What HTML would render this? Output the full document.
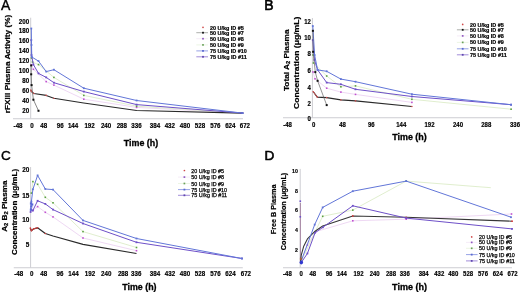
<!DOCTYPE html>
<html><head><meta charset="utf-8"><style>
html,body{margin:0;padding:0;background:#fff;}
svg{display:block;font-family:"Liberation Sans", sans-serif;will-change:transform;}
</style></head><body>
<svg width="520" height="292" viewBox="0 0 520 292">
<rect width="520" height="292" fill="#fff"/>
<text x="1.1" y="9.9" font-size="14" text-anchor="start" font-weight="normal" fill="#000" stroke="#000" stroke-width="0.35">A</text>
<text x="264.2" y="9.9" font-size="14" text-anchor="start" font-weight="normal" fill="#000" stroke="#000" stroke-width="0.6">B</text>
<text x="0.9" y="159.7" font-size="13.6" text-anchor="start" font-weight="normal" fill="#000" stroke="#000" stroke-width="0.35">C</text>
<text x="264.6" y="159.9" font-size="13.6" text-anchor="start" font-weight="normal" fill="#000" stroke="#000" stroke-width="0.6">D</text>
<line x1="30.7" y1="17.7" x2="30.7" y2="118.5" stroke="#cdcdd2" stroke-width="1.0"/>
<line x1="13" y1="118.8" x2="243" y2="118.8" stroke="#cdcdd2" stroke-width="1.1"/>
<text x="29.2" y="23.985952" font-size="6.94" text-anchor="end" font-weight="bold" fill="#000" textLength="10.34" lengthAdjust="spacingAndGlyphs" stroke="#000" stroke-width="0.18">200</text>
<text x="29.2" y="32.985952" font-size="6.94" text-anchor="end" font-weight="bold" fill="#000" textLength="10.34" lengthAdjust="spacingAndGlyphs" stroke="#000" stroke-width="0.18">180</text>
<text x="29.2" y="42.785951999999995" font-size="6.94" text-anchor="end" font-weight="bold" fill="#000" textLength="10.34" lengthAdjust="spacingAndGlyphs" stroke="#000" stroke-width="0.18">160</text>
<text x="29.2" y="52.785951999999995" font-size="6.94" text-anchor="end" font-weight="bold" fill="#000" textLength="10.34" lengthAdjust="spacingAndGlyphs" stroke="#000" stroke-width="0.18">140</text>
<text x="29.2" y="62.985952" font-size="6.94" text-anchor="end" font-weight="bold" fill="#000" textLength="10.34" lengthAdjust="spacingAndGlyphs" stroke="#000" stroke-width="0.18">120</text>
<text x="29.2" y="72.885952" font-size="6.94" text-anchor="end" font-weight="bold" fill="#000" textLength="10.34" lengthAdjust="spacingAndGlyphs" stroke="#000" stroke-width="0.18">100</text>
<text x="29.2" y="82.785952" font-size="6.94" text-anchor="end" font-weight="bold" fill="#000" textLength="6.89" lengthAdjust="spacingAndGlyphs" stroke="#000" stroke-width="0.18">80</text>
<text x="29.2" y="92.985952" font-size="6.94" text-anchor="end" font-weight="bold" fill="#000" textLength="6.89" lengthAdjust="spacingAndGlyphs" stroke="#000" stroke-width="0.18">60</text>
<text x="29.2" y="103.285952" font-size="6.94" text-anchor="end" font-weight="bold" fill="#000" textLength="6.89" lengthAdjust="spacingAndGlyphs" stroke="#000" stroke-width="0.18">40</text>
<text x="29.2" y="113.485952" font-size="6.94" text-anchor="end" font-weight="bold" fill="#000" textLength="6.89" lengthAdjust="spacingAndGlyphs" stroke="#000" stroke-width="0.18">20</text>
<text x="18.1" y="128.0" font-size="6.94" text-anchor="middle" font-weight="bold" fill="#000" textLength="8.96" lengthAdjust="spacingAndGlyphs" stroke="#000" stroke-width="0.18">-48</text>
<text x="31.9" y="128.0" font-size="6.94" text-anchor="middle" font-weight="bold" fill="#000" textLength="3.45" lengthAdjust="spacingAndGlyphs" stroke="#000" stroke-width="0.18">0</text>
<text x="43.75" y="128.0" font-size="6.94" text-anchor="middle" font-weight="bold" fill="#000" textLength="6.89" lengthAdjust="spacingAndGlyphs" stroke="#000" stroke-width="0.18">48</text>
<text x="60.3" y="128.0" font-size="6.94" text-anchor="middle" font-weight="bold" fill="#000" textLength="6.89" lengthAdjust="spacingAndGlyphs" stroke="#000" stroke-width="0.18">96</text>
<text x="73.1" y="128.0" font-size="6.94" text-anchor="middle" font-weight="bold" fill="#000" textLength="10.34" lengthAdjust="spacingAndGlyphs" stroke="#000" stroke-width="0.18">144</text>
<text x="89.6" y="128.0" font-size="6.94" text-anchor="middle" font-weight="bold" fill="#000" textLength="10.34" lengthAdjust="spacingAndGlyphs" stroke="#000" stroke-width="0.18">192</text>
<text x="106.1" y="128.0" font-size="6.94" text-anchor="middle" font-weight="bold" fill="#000" textLength="10.34" lengthAdjust="spacingAndGlyphs" stroke="#000" stroke-width="0.18">240</text>
<text x="121.8" y="128.0" font-size="6.94" text-anchor="middle" font-weight="bold" fill="#000" textLength="10.34" lengthAdjust="spacingAndGlyphs" stroke="#000" stroke-width="0.18">288</text>
<text x="136.5" y="128.0" font-size="6.94" text-anchor="middle" font-weight="bold" fill="#000" textLength="10.34" lengthAdjust="spacingAndGlyphs" stroke="#000" stroke-width="0.18">336</text>
<text x="155" y="128.0" font-size="6.94" text-anchor="middle" font-weight="bold" fill="#000" textLength="10.34" lengthAdjust="spacingAndGlyphs" stroke="#000" stroke-width="0.18">384</text>
<text x="169.8" y="128.0" font-size="6.94" text-anchor="middle" font-weight="bold" fill="#000" textLength="10.34" lengthAdjust="spacingAndGlyphs" stroke="#000" stroke-width="0.18">432</text>
<text x="185" y="128.0" font-size="6.94" text-anchor="middle" font-weight="bold" fill="#000" textLength="10.34" lengthAdjust="spacingAndGlyphs" stroke="#000" stroke-width="0.18">480</text>
<text x="200" y="128.0" font-size="6.94" text-anchor="middle" font-weight="bold" fill="#000" textLength="10.34" lengthAdjust="spacingAndGlyphs" stroke="#000" stroke-width="0.18">528</text>
<text x="215.4" y="128.0" font-size="6.94" text-anchor="middle" font-weight="bold" fill="#000" textLength="10.34" lengthAdjust="spacingAndGlyphs" stroke="#000" stroke-width="0.18">576</text>
<text x="230.3" y="128.0" font-size="6.94" text-anchor="middle" font-weight="bold" fill="#000" textLength="10.34" lengthAdjust="spacingAndGlyphs" stroke="#000" stroke-width="0.18">624</text>
<text x="244.9" y="128.0" font-size="6.94" text-anchor="middle" font-weight="bold" fill="#000" textLength="10.34" lengthAdjust="spacingAndGlyphs" stroke="#000" stroke-width="0.18">672</text>
<text x="141" y="145.9" font-size="8.9" text-anchor="middle" font-weight="bold" fill="#000" textLength="34.4" lengthAdjust="spacingAndGlyphs" stroke="#000" stroke-width="0.3">Time (h)</text>
<text transform="translate(10.4 64.0) rotate(-90)" x="0" y="0" font-size="7.4" text-anchor="middle" font-weight="bold" fill="#000" textLength="98.4" lengthAdjust="spacingAndGlyphs" stroke="#000" stroke-width="0.2">rFXIII Plasma Activity (%)</text>
<polyline points="31.5,65 33.4,69.3 46.2,81.6 53.9,85.1 83.8,99.2 136.6,107.4 242.5,113.1" fill="none" stroke="#ecd4f2" stroke-width="0.9" stroke-opacity="1" stroke-linejoin="round"/>
<rect x="30.7" y="64.2" width="1.6" height="1.6" fill="#c050d0" fill-opacity="1"/>
<rect x="32.6" y="68.5" width="1.6" height="1.6" fill="#c050d0" fill-opacity="1"/>
<rect x="45.400000000000006" y="80.8" width="1.6" height="1.6" fill="#c050d0" fill-opacity="1"/>
<rect x="53.1" y="84.3" width="1.6" height="1.6" fill="#c050d0" fill-opacity="1"/>
<rect x="83.0" y="98.4" width="1.6" height="1.6" fill="#c050d0" fill-opacity="1"/>
<rect x="135.79999999999998" y="106.60000000000001" width="1.6" height="1.6" fill="#c050d0" fill-opacity="1"/>
<rect x="241.7" y="112.3" width="1.6" height="1.6" fill="#c050d0" fill-opacity="1"/>
<polyline points="31.5,58 32.5,62 38.5,64.6 53.9,77.4 83.8,95.4 136.6,106.2 242.5,113.1" fill="none" stroke="#dcecc8" stroke-width="0.9" stroke-opacity="1" stroke-linejoin="round"/>
<rect x="30.7" y="57.2" width="1.6" height="1.6" fill="#5aa040" fill-opacity="1"/>
<rect x="31.7" y="61.2" width="1.6" height="1.6" fill="#5aa040" fill-opacity="1"/>
<rect x="37.7" y="63.8" width="1.6" height="1.6" fill="#5aa040" fill-opacity="1"/>
<rect x="53.1" y="76.60000000000001" width="1.6" height="1.6" fill="#5aa040" fill-opacity="1"/>
<rect x="83.0" y="94.60000000000001" width="1.6" height="1.6" fill="#5aa040" fill-opacity="1"/>
<rect x="135.79999999999998" y="105.4" width="1.6" height="1.6" fill="#5aa040" fill-opacity="1"/>
<rect x="241.7" y="112.3" width="1.6" height="1.6" fill="#5aa040" fill-opacity="1"/>
<polyline points="30.8,90 31.4,91.5 33.8,93.5 46.2,95.4 53.8,98.2 83.7,103 136.6,110.5 242.5,113.1" fill="none" stroke="#2a2a2a" stroke-width="1.1" stroke-opacity="1" stroke-linejoin="round"/>
<polyline points="30.8,90 31.4,91.5 33.8,93.5" fill="none" stroke="#c85050" stroke-width="1.0" stroke-opacity="1" stroke-linejoin="round"/>
<circle cx="30.8" cy="90" r="0.8" fill="#d05050" fill-opacity="1"/>
<circle cx="31.4" cy="91.5" r="0.8" fill="#d05050" fill-opacity="1"/>
<circle cx="33.8" cy="93.5" r="0.8" fill="#d05050" fill-opacity="1"/>
<circle cx="46.2" cy="95.4" r="0.8" fill="#d05050" fill-opacity="1"/>
<circle cx="53.8" cy="98.2" r="0.8" fill="#d05050" fill-opacity="1"/>
<polyline points="31.3,40 31.5,55 33.4,64.6 38.5,73.4 46.2,77.4 53.9,82.7 83.8,91.6 136.6,104.6 242.5,113.1" fill="none" stroke="#6e50c8" stroke-width="1.0" stroke-opacity="1" stroke-linejoin="round"/>
<rect x="30.400000000000002" y="39.1" width="1.8" height="1.8" fill="#6e50c8" fill-opacity="1"/>
<rect x="30.6" y="54.1" width="1.8" height="1.8" fill="#6e50c8" fill-opacity="1"/>
<rect x="32.5" y="63.699999999999996" width="1.8" height="1.8" fill="#6e50c8" fill-opacity="1"/>
<rect x="37.6" y="72.5" width="1.8" height="1.8" fill="#6e50c8" fill-opacity="1"/>
<rect x="45.300000000000004" y="76.5" width="1.8" height="1.8" fill="#6e50c8" fill-opacity="1"/>
<rect x="53.0" y="81.8" width="1.8" height="1.8" fill="#6e50c8" fill-opacity="1"/>
<rect x="82.89999999999999" y="90.69999999999999" width="1.8" height="1.8" fill="#6e50c8" fill-opacity="1"/>
<rect x="135.7" y="103.69999999999999" width="1.8" height="1.8" fill="#6e50c8" fill-opacity="1"/>
<rect x="241.6" y="112.19999999999999" width="1.8" height="1.8" fill="#6e50c8" fill-opacity="1"/>
<polyline points="31.3,28.5 31.5,45 31.8,57 38.5,61.1 46.2,71.6 53.9,69.7 83.8,88.2 136.6,100.5 242.5,113.1" fill="none" stroke="#6276d8" stroke-width="1.0" stroke-opacity="1" stroke-linejoin="round"/>
<rect x="30.400000000000002" y="27.6" width="1.8" height="1.8" fill="#6276d8" fill-opacity="1"/>
<rect x="30.6" y="44.1" width="1.8" height="1.8" fill="#6276d8" fill-opacity="1"/>
<rect x="30.900000000000002" y="56.1" width="1.8" height="1.8" fill="#6276d8" fill-opacity="1"/>
<rect x="37.6" y="60.2" width="1.8" height="1.8" fill="#6276d8" fill-opacity="1"/>
<rect x="45.300000000000004" y="70.69999999999999" width="1.8" height="1.8" fill="#6276d8" fill-opacity="1"/>
<rect x="53.0" y="68.8" width="1.8" height="1.8" fill="#6276d8" fill-opacity="1"/>
<rect x="82.89999999999999" y="87.3" width="1.8" height="1.8" fill="#6276d8" fill-opacity="1"/>
<rect x="135.7" y="99.6" width="1.8" height="1.8" fill="#6276d8" fill-opacity="1"/>
<rect x="241.6" y="112.19999999999999" width="1.8" height="1.8" fill="#6276d8" fill-opacity="1"/>
<polyline points="31.2,65.4 31.2,74.3 31.6,85.1 33.4,99.7 38.5,110.8" fill="none" stroke="#555" stroke-width="0.7" stroke-opacity="1" stroke-linejoin="round"/>
<rect x="30.2" y="64.4" width="2.0" height="2.0" fill="#111" fill-opacity="1"/>
<rect x="30.2" y="73.3" width="2.0" height="2.0" fill="#111" fill-opacity="1"/>
<rect x="30.6" y="84.1" width="2.0" height="2.0" fill="#111" fill-opacity="1"/>
<rect x="32.4" y="98.7" width="2.0" height="2.0" fill="#111" fill-opacity="1"/>
<rect x="37.5" y="109.8" width="2.0" height="2.0" fill="#111" fill-opacity="1"/>
<circle cx="203" cy="27.3" r="0.85" fill="#d04848" fill-opacity="1"/>
<text x="210" y="29.816000000000003" font-size="5.6" text-anchor="start" font-weight="bold" fill="#000" textLength="33.81" lengthAdjust="spacingAndGlyphs" stroke="#000" stroke-width="0.2">20 U/kg ID #5</text>
<line x1="196.3" y1="32.7" x2="208" y2="32.7" stroke="#8a8e88" stroke-width="0.7"/>
<rect x="202.1" y="31.800000000000004" width="1.8" height="1.8" fill="#111" fill-opacity="1"/>
<text x="210" y="34.716" font-size="5.6" text-anchor="start" font-weight="bold" fill="#000" textLength="33.81" lengthAdjust="spacingAndGlyphs" stroke="#000" stroke-width="0.2">50 U/kg ID #7</text>
<line x1="196.3" y1="38.7" x2="208" y2="38.7" stroke="#f0e4f4" stroke-width="0.7"/>
<rect x="202.15" y="37.85" width="1.7" height="1.7" fill="#9058c0" fill-opacity="1"/>
<text x="210" y="40.716" font-size="5.6" text-anchor="start" font-weight="bold" fill="#000" textLength="33.81" lengthAdjust="spacingAndGlyphs" stroke="#000" stroke-width="0.2">50 U/kg ID #8</text>
<line x1="196.3" y1="44.9" x2="208" y2="44.9" stroke="#e4f0d8" stroke-width="0.7"/>
<rect x="202.15" y="44.05" width="1.7" height="1.7" fill="#68a058" fill-opacity="1"/>
<text x="210" y="46.916" font-size="5.6" text-anchor="start" font-weight="bold" fill="#000" textLength="33.81" lengthAdjust="spacingAndGlyphs" stroke="#000" stroke-width="0.2">50 U/kg ID #9</text>
<line x1="196.3" y1="50.9" x2="208" y2="50.9" stroke="#7c8ce0" stroke-width="0.8"/>
<rect x="202.1" y="50.0" width="1.8" height="1.8" fill="#5a6ad0" fill-opacity="1"/>
<text x="210" y="52.916" font-size="5.6" text-anchor="start" font-weight="bold" fill="#000" textLength="36.83" lengthAdjust="spacingAndGlyphs" stroke="#000" stroke-width="0.2">75 U/kg ID #10</text>
<line x1="196.3" y1="56.8" x2="208" y2="56.8" stroke="#8a70d0" stroke-width="0.8"/>
<rect x="202.1" y="55.9" width="1.8" height="1.8" fill="#6048b0" fill-opacity="1"/>
<text x="210" y="58.815999999999995" font-size="5.6" text-anchor="start" font-weight="bold" fill="#000" textLength="36.83" lengthAdjust="spacingAndGlyphs" stroke="#000" stroke-width="0.2">75 U/kg ID #11</text>
<line x1="312.4" y1="18" x2="312.4" y2="117.7" stroke="#cdcdd2" stroke-width="1.0"/>
<line x1="283" y1="117.7" x2="512" y2="117.7" stroke="#cdcdd2" stroke-width="1.1"/>
<text x="310.9" y="23.70576" font-size="6.72" text-anchor="end" font-weight="bold" fill="#000" textLength="6.67" lengthAdjust="spacingAndGlyphs" stroke="#000" stroke-width="0.18">12</text>
<text x="310.9" y="40.30576" font-size="6.72" text-anchor="end" font-weight="bold" fill="#000" textLength="6.67" lengthAdjust="spacingAndGlyphs" stroke="#000" stroke-width="0.18">10</text>
<text x="310.9" y="56.20576" font-size="6.72" text-anchor="end" font-weight="bold" fill="#000" textLength="3.34" lengthAdjust="spacingAndGlyphs" stroke="#000" stroke-width="0.18">8</text>
<text x="310.9" y="72.90576" font-size="6.72" text-anchor="end" font-weight="bold" fill="#000" textLength="3.34" lengthAdjust="spacingAndGlyphs" stroke="#000" stroke-width="0.18">6</text>
<text x="310.9" y="89.60576" font-size="6.72" text-anchor="end" font-weight="bold" fill="#000" textLength="3.34" lengthAdjust="spacingAndGlyphs" stroke="#000" stroke-width="0.18">4</text>
<text x="310.9" y="105.60576" font-size="6.72" text-anchor="end" font-weight="bold" fill="#000" textLength="3.34" lengthAdjust="spacingAndGlyphs" stroke="#000" stroke-width="0.18">2</text>
<text x="310.9" y="121.40576" font-size="6.72" text-anchor="end" font-weight="bold" fill="#000" textLength="3.34" lengthAdjust="spacingAndGlyphs" stroke="#000" stroke-width="0.18">0</text>
<text x="287.5" y="127.0" font-size="6.72" text-anchor="middle" font-weight="bold" fill="#000" textLength="8.67" lengthAdjust="spacingAndGlyphs" stroke="#000" stroke-width="0.18">-48</text>
<text x="313.75" y="127.0" font-size="6.72" text-anchor="middle" font-weight="bold" fill="#000" textLength="3.34" lengthAdjust="spacingAndGlyphs" stroke="#000" stroke-width="0.18">0</text>
<text x="342.5" y="127.0" font-size="6.72" text-anchor="middle" font-weight="bold" fill="#000" textLength="6.67" lengthAdjust="spacingAndGlyphs" stroke="#000" stroke-width="0.18">48</text>
<text x="371.25" y="127.0" font-size="6.72" text-anchor="middle" font-weight="bold" fill="#000" textLength="6.67" lengthAdjust="spacingAndGlyphs" stroke="#000" stroke-width="0.18">96</text>
<text x="401.25" y="127.0" font-size="6.72" text-anchor="middle" font-weight="bold" fill="#000" textLength="10.01" lengthAdjust="spacingAndGlyphs" stroke="#000" stroke-width="0.18">144</text>
<text x="429.5" y="127.0" font-size="6.72" text-anchor="middle" font-weight="bold" fill="#000" textLength="10.01" lengthAdjust="spacingAndGlyphs" stroke="#000" stroke-width="0.18">192</text>
<text x="458" y="127.0" font-size="6.72" text-anchor="middle" font-weight="bold" fill="#000" textLength="10.01" lengthAdjust="spacingAndGlyphs" stroke="#000" stroke-width="0.18">240</text>
<text x="486.25" y="127.0" font-size="6.72" text-anchor="middle" font-weight="bold" fill="#000" textLength="10.01" lengthAdjust="spacingAndGlyphs" stroke="#000" stroke-width="0.18">288</text>
<text x="515" y="127.0" font-size="6.72" text-anchor="middle" font-weight="bold" fill="#000" textLength="10.01" lengthAdjust="spacingAndGlyphs" stroke="#000" stroke-width="0.18">336</text>
<text x="409.5" y="139.9" font-size="8.9" text-anchor="middle" font-weight="bold" fill="#000" textLength="34.6" lengthAdjust="spacingAndGlyphs" stroke="#000" stroke-width="0.3">Time (h)</text>
<text transform="translate(289.0 60.3) rotate(-90)" x="0" y="0" font-size="7.2" text-anchor="middle" font-weight="bold" fill="#000" textLength="61.6" lengthAdjust="spacingAndGlyphs" stroke="#000" stroke-width="0.2">Total A<tspan font-size="5" dy="1.3">2</tspan><tspan dy="-1.3"> Plasma</tspan></text>
<text transform="translate(298.6 62.8) rotate(-90)" x="0" y="0" font-size="6.9" text-anchor="middle" font-weight="bold" fill="#000" textLength="92.4" lengthAdjust="spacingAndGlyphs" stroke="#000" stroke-width="0.2">Concentration (μg/mL)</text>
<polyline points="313,72 315,78.8 326.7,88.2 340.9,92.1 355.5,94.4 411.9,102.4" fill="none" stroke="#ecd4f2" stroke-width="0.9" stroke-opacity="1" stroke-linejoin="round"/>
<rect x="312.2" y="71.2" width="1.6" height="1.6" fill="#c050d0" fill-opacity="1"/>
<rect x="314.2" y="78.0" width="1.6" height="1.6" fill="#c050d0" fill-opacity="1"/>
<rect x="325.9" y="87.4" width="1.6" height="1.6" fill="#c050d0" fill-opacity="1"/>
<rect x="340.09999999999997" y="91.3" width="1.6" height="1.6" fill="#c050d0" fill-opacity="1"/>
<rect x="354.7" y="93.60000000000001" width="1.6" height="1.6" fill="#c050d0" fill-opacity="1"/>
<rect x="411.09999999999997" y="101.60000000000001" width="1.6" height="1.6" fill="#c050d0" fill-opacity="1"/>
<polyline points="313,55 313.5,63 326.7,76 340.9,86.8 355.5,85.9 411.9,99.3 511.1,109.2" fill="none" stroke="#dcecc8" stroke-width="0.9" stroke-opacity="1" stroke-linejoin="round"/>
<rect x="312.2" y="54.2" width="1.6" height="1.6" fill="#5aa040" fill-opacity="1"/>
<rect x="312.7" y="62.2" width="1.6" height="1.6" fill="#5aa040" fill-opacity="1"/>
<rect x="325.9" y="75.2" width="1.6" height="1.6" fill="#5aa040" fill-opacity="1"/>
<rect x="340.09999999999997" y="86.0" width="1.6" height="1.6" fill="#5aa040" fill-opacity="1"/>
<rect x="354.7" y="85.10000000000001" width="1.6" height="1.6" fill="#5aa040" fill-opacity="1"/>
<rect x="411.09999999999997" y="98.5" width="1.6" height="1.6" fill="#5aa040" fill-opacity="1"/>
<rect x="510.3" y="108.4" width="1.6" height="1.6" fill="#5aa040" fill-opacity="1"/>
<polyline points="313.2,91.7 317.3,97.1 326.7,97.6 340.9,99.9 355.5,100.9 411.9,106.5" fill="none" stroke="#2a2a2a" stroke-width="1.1" stroke-opacity="1" stroke-linejoin="round"/>
<polyline points="313.2,91.7 317.3,97.1" fill="none" stroke="#c85050" stroke-width="1.0" stroke-opacity="1" stroke-linejoin="round"/>
<circle cx="313.2" cy="91.7" r="0.8" fill="#d05050" fill-opacity="1"/>
<circle cx="317.3" cy="97.1" r="0.8" fill="#d05050" fill-opacity="1"/>
<circle cx="326.7" cy="97.6" r="0.8" fill="#d05050" fill-opacity="1"/>
<circle cx="340.9" cy="99.9" r="0.8" fill="#d05050" fill-opacity="1"/>
<circle cx="355.5" cy="100.9" r="0.8" fill="#d05050" fill-opacity="1"/>
<circle cx="411.9" cy="106.5" r="0.8" fill="#d05050" fill-opacity="1"/>
<polyline points="312.8,40 314.5,60 317.6,69.9 326.7,82.6 340.9,84.3 355.5,89.3 411.9,96.5 511.1,104.7" fill="none" stroke="#6e50c8" stroke-width="1.0" stroke-opacity="1" stroke-linejoin="round"/>
<rect x="311.90000000000003" y="39.1" width="1.8" height="1.8" fill="#6e50c8" fill-opacity="1"/>
<rect x="313.6" y="59.1" width="1.8" height="1.8" fill="#6e50c8" fill-opacity="1"/>
<rect x="316.70000000000005" y="69.0" width="1.8" height="1.8" fill="#6e50c8" fill-opacity="1"/>
<rect x="325.8" y="81.69999999999999" width="1.8" height="1.8" fill="#6e50c8" fill-opacity="1"/>
<rect x="340.0" y="83.39999999999999" width="1.8" height="1.8" fill="#6e50c8" fill-opacity="1"/>
<rect x="354.6" y="88.39999999999999" width="1.8" height="1.8" fill="#6e50c8" fill-opacity="1"/>
<rect x="411.0" y="95.6" width="1.8" height="1.8" fill="#6e50c8" fill-opacity="1"/>
<rect x="510.20000000000005" y="103.8" width="1.8" height="1.8" fill="#6e50c8" fill-opacity="1"/>
<polyline points="312.8,26 314.6,55 317.6,69.9 326.7,71.3 340.9,79.1 355.5,81.7 411.9,94.2 511.1,104.7" fill="none" stroke="#6276d8" stroke-width="1.0" stroke-opacity="1" stroke-linejoin="round"/>
<rect x="311.90000000000003" y="25.1" width="1.8" height="1.8" fill="#6276d8" fill-opacity="1"/>
<rect x="313.70000000000005" y="54.1" width="1.8" height="1.8" fill="#6276d8" fill-opacity="1"/>
<rect x="316.70000000000005" y="69.0" width="1.8" height="1.8" fill="#6276d8" fill-opacity="1"/>
<rect x="325.8" y="70.39999999999999" width="1.8" height="1.8" fill="#6276d8" fill-opacity="1"/>
<rect x="340.0" y="78.19999999999999" width="1.8" height="1.8" fill="#6276d8" fill-opacity="1"/>
<rect x="354.6" y="80.8" width="1.8" height="1.8" fill="#6276d8" fill-opacity="1"/>
<rect x="411.0" y="93.3" width="1.8" height="1.8" fill="#6276d8" fill-opacity="1"/>
<rect x="510.20000000000005" y="103.8" width="1.8" height="1.8" fill="#6276d8" fill-opacity="1"/>
<polyline points="312.9,30.8 313.1,51.8 315.3,72.1 317.6,80.8 326.7,105.1" fill="none" stroke="#666" stroke-width="0.7" stroke-opacity="1" stroke-linejoin="round"/>
<rect x="311.9" y="29.8" width="2.0" height="2.0" fill="#111" fill-opacity="1"/>
<rect x="312.1" y="50.8" width="2.0" height="2.0" fill="#111" fill-opacity="1"/>
<rect x="314.3" y="71.1" width="2.0" height="2.0" fill="#111" fill-opacity="1"/>
<rect x="316.6" y="79.8" width="2.0" height="2.0" fill="#111" fill-opacity="1"/>
<rect x="325.7" y="104.1" width="2.0" height="2.0" fill="#111" fill-opacity="1"/>
<circle cx="462.7" cy="24.4" r="0.85" fill="#d04848" fill-opacity="1"/>
<text x="470" y="26.915999999999997" font-size="5.6" text-anchor="start" font-weight="bold" fill="#000" textLength="33.81" lengthAdjust="spacingAndGlyphs" stroke="#000" stroke-width="0.2">20 U/kg ID #5</text>
<line x1="456.9" y1="29.8" x2="468.5" y2="29.8" stroke="#8a8e88" stroke-width="0.7"/>
<rect x="461.8" y="28.900000000000002" width="1.8" height="1.8" fill="#111" fill-opacity="1"/>
<text x="470" y="31.816000000000003" font-size="5.6" text-anchor="start" font-weight="bold" fill="#000" textLength="33.81" lengthAdjust="spacingAndGlyphs" stroke="#000" stroke-width="0.2">50 U/kg ID #7</text>
<line x1="456.9" y1="35.9" x2="468.5" y2="35.9" stroke="#f0e4f4" stroke-width="0.7"/>
<rect x="461.84999999999997" y="35.05" width="1.7" height="1.7" fill="#9058c0" fill-opacity="1"/>
<text x="470" y="37.916" font-size="5.6" text-anchor="start" font-weight="bold" fill="#000" textLength="33.81" lengthAdjust="spacingAndGlyphs" stroke="#000" stroke-width="0.2">50 U/kg ID #8</text>
<line x1="456.9" y1="42.4" x2="468.5" y2="42.4" stroke="#e4f0d8" stroke-width="0.7"/>
<rect x="461.84999999999997" y="41.55" width="1.7" height="1.7" fill="#68a058" fill-opacity="1"/>
<text x="470" y="44.416" font-size="5.6" text-anchor="start" font-weight="bold" fill="#000" textLength="33.81" lengthAdjust="spacingAndGlyphs" stroke="#000" stroke-width="0.2">50 U/kg ID #9</text>
<line x1="456.9" y1="48.8" x2="468.5" y2="48.8" stroke="#7c8ce0" stroke-width="0.8"/>
<rect x="461.8" y="47.9" width="1.8" height="1.8" fill="#5a6ad0" fill-opacity="1"/>
<text x="470" y="50.815999999999995" font-size="5.6" text-anchor="start" font-weight="bold" fill="#000" textLength="36.83" lengthAdjust="spacingAndGlyphs" stroke="#000" stroke-width="0.2">75 U/kg ID #10</text>
<line x1="456.9" y1="54.8" x2="468.5" y2="54.8" stroke="#8a70d0" stroke-width="0.8"/>
<rect x="461.8" y="53.9" width="1.8" height="1.8" fill="#6048b0" fill-opacity="1"/>
<text x="470" y="56.815999999999995" font-size="5.6" text-anchor="start" font-weight="bold" fill="#000" textLength="36.83" lengthAdjust="spacingAndGlyphs" stroke="#000" stroke-width="0.2">75 U/kg ID #11</text>
<line x1="30.6" y1="167" x2="30.6" y2="267.7" stroke="#cdcdd2" stroke-width="1.0"/>
<line x1="13.75" y1="267.7" x2="242.8" y2="267.7" stroke="#cdcdd2" stroke-width="1.1"/>
<text x="29.3" y="172.36614400000002" font-size="7.17" text-anchor="end" font-weight="bold" fill="#000" textLength="7.12" lengthAdjust="spacingAndGlyphs" stroke="#000" stroke-width="0.18">20</text>
<text x="29.3" y="197.666144" font-size="7.17" text-anchor="end" font-weight="bold" fill="#000" textLength="7.12" lengthAdjust="spacingAndGlyphs" stroke="#000" stroke-width="0.18">15</text>
<text x="29.3" y="222.066144" font-size="7.17" text-anchor="end" font-weight="bold" fill="#000" textLength="7.12" lengthAdjust="spacingAndGlyphs" stroke="#000" stroke-width="0.18">10</text>
<text x="29.3" y="246.966144" font-size="7.17" text-anchor="end" font-weight="bold" fill="#000" textLength="3.56" lengthAdjust="spacingAndGlyphs" stroke="#000" stroke-width="0.18">5</text>
<text x="18.75" y="276.0" font-size="6.94" text-anchor="middle" font-weight="bold" fill="#000" textLength="8.96" lengthAdjust="spacingAndGlyphs" stroke="#000" stroke-width="0.18">-48</text>
<text x="31.75" y="276.0" font-size="6.94" text-anchor="middle" font-weight="bold" fill="#000" textLength="3.45" lengthAdjust="spacingAndGlyphs" stroke="#000" stroke-width="0.18">0</text>
<text x="43.75" y="276.0" font-size="6.94" text-anchor="middle" font-weight="bold" fill="#000" textLength="6.89" lengthAdjust="spacingAndGlyphs" stroke="#000" stroke-width="0.18">48</text>
<text x="60" y="276.0" font-size="6.94" text-anchor="middle" font-weight="bold" fill="#000" textLength="6.89" lengthAdjust="spacingAndGlyphs" stroke="#000" stroke-width="0.18">96</text>
<text x="73.5" y="276.0" font-size="6.94" text-anchor="middle" font-weight="bold" fill="#000" textLength="10.34" lengthAdjust="spacingAndGlyphs" stroke="#000" stroke-width="0.18">144</text>
<text x="90" y="276.0" font-size="6.94" text-anchor="middle" font-weight="bold" fill="#000" textLength="10.34" lengthAdjust="spacingAndGlyphs" stroke="#000" stroke-width="0.18">192</text>
<text x="106.2" y="276.0" font-size="6.94" text-anchor="middle" font-weight="bold" fill="#000" textLength="10.34" lengthAdjust="spacingAndGlyphs" stroke="#000" stroke-width="0.18">240</text>
<text x="123.1" y="276.0" font-size="6.94" text-anchor="middle" font-weight="bold" fill="#000" textLength="10.34" lengthAdjust="spacingAndGlyphs" stroke="#000" stroke-width="0.18">288</text>
<text x="136.25" y="276.0" font-size="6.94" text-anchor="middle" font-weight="bold" fill="#000" textLength="10.34" lengthAdjust="spacingAndGlyphs" stroke="#000" stroke-width="0.18">336</text>
<text x="155" y="276.0" font-size="6.94" text-anchor="middle" font-weight="bold" fill="#000" textLength="10.34" lengthAdjust="spacingAndGlyphs" stroke="#000" stroke-width="0.18">384</text>
<text x="170" y="276.0" font-size="6.94" text-anchor="middle" font-weight="bold" fill="#000" textLength="10.34" lengthAdjust="spacingAndGlyphs" stroke="#000" stroke-width="0.18">432</text>
<text x="185" y="276.0" font-size="6.94" text-anchor="middle" font-weight="bold" fill="#000" textLength="10.34" lengthAdjust="spacingAndGlyphs" stroke="#000" stroke-width="0.18">480</text>
<text x="200" y="276.0" font-size="6.94" text-anchor="middle" font-weight="bold" fill="#000" textLength="10.34" lengthAdjust="spacingAndGlyphs" stroke="#000" stroke-width="0.18">528</text>
<text x="215.5" y="276.0" font-size="6.94" text-anchor="middle" font-weight="bold" fill="#000" textLength="10.34" lengthAdjust="spacingAndGlyphs" stroke="#000" stroke-width="0.18">576</text>
<text x="230.5" y="276.0" font-size="6.94" text-anchor="middle" font-weight="bold" fill="#000" textLength="10.34" lengthAdjust="spacingAndGlyphs" stroke="#000" stroke-width="0.18">624</text>
<text x="245.9" y="276.0" font-size="6.94" text-anchor="middle" font-weight="bold" fill="#000" textLength="10.34" lengthAdjust="spacingAndGlyphs" stroke="#000" stroke-width="0.18">672</text>
<text x="139.4" y="290.0" font-size="8.9" text-anchor="middle" font-weight="bold" fill="#000" textLength="34.3" lengthAdjust="spacingAndGlyphs" stroke="#000" stroke-width="0.3">Time (h)</text>
<text transform="translate(6.9 206.2) rotate(-90)" x="0" y="0" font-size="6.8" text-anchor="middle" font-weight="bold" fill="#000" textLength="51.3" lengthAdjust="spacingAndGlyphs" stroke="#000" stroke-width="0.2">A<tspan font-size="4.8" dy="1.3">2</tspan><tspan dy="-1.3"> B</tspan><tspan font-size="4.8" dy="1.3">2</tspan><tspan dy="-1.3"> Plasma</tspan></text>
<text transform="translate(16.9 212) rotate(-90)" x="0" y="0" font-size="7.0" text-anchor="middle" font-weight="bold" fill="#000" textLength="86.2" lengthAdjust="spacingAndGlyphs" stroke="#000" stroke-width="0.2">Concentration (μg/mL)</text>
<polyline points="32.9,210.4 37.6,206.6 45.3,212.3 53,216.9 83,238 136.5,250.7" fill="none" stroke="#ecd4f2" stroke-width="0.9" stroke-opacity="1" stroke-linejoin="round"/>
<rect x="32.1" y="209.6" width="1.6" height="1.6" fill="#c050d0" fill-opacity="1"/>
<rect x="36.800000000000004" y="205.79999999999998" width="1.6" height="1.6" fill="#c050d0" fill-opacity="1"/>
<rect x="44.5" y="211.5" width="1.6" height="1.6" fill="#c050d0" fill-opacity="1"/>
<rect x="52.2" y="216.1" width="1.6" height="1.6" fill="#c050d0" fill-opacity="1"/>
<rect x="82.2" y="237.2" width="1.6" height="1.6" fill="#c050d0" fill-opacity="1"/>
<rect x="135.7" y="249.89999999999998" width="1.6" height="1.6" fill="#c050d0" fill-opacity="1"/>
<polyline points="31.4,193.1 32.9,181.6 37.6,184.3 45.3,197.3 53,202.8 83,231.6 136.5,247.5" fill="none" stroke="#dcecc8" stroke-width="0.9" stroke-opacity="1" stroke-linejoin="round"/>
<rect x="30.599999999999998" y="192.29999999999998" width="1.6" height="1.6" fill="#5aa040" fill-opacity="1"/>
<rect x="32.1" y="180.79999999999998" width="1.6" height="1.6" fill="#5aa040" fill-opacity="1"/>
<rect x="36.800000000000004" y="183.5" width="1.6" height="1.6" fill="#5aa040" fill-opacity="1"/>
<rect x="44.5" y="196.5" width="1.6" height="1.6" fill="#5aa040" fill-opacity="1"/>
<rect x="52.2" y="202.0" width="1.6" height="1.6" fill="#5aa040" fill-opacity="1"/>
<rect x="82.2" y="230.79999999999998" width="1.6" height="1.6" fill="#5aa040" fill-opacity="1"/>
<rect x="135.7" y="246.7" width="1.6" height="1.6" fill="#5aa040" fill-opacity="1"/>
<polyline points="30.3,228.1 31.4,230.7 33.7,228.8 37.6,227.8 45.3,233.5 53,236 83,244.3 136.5,253.5" fill="none" stroke="#2a2a2a" stroke-width="1.2" stroke-opacity="1" stroke-linejoin="round"/>
<polyline points="30.3,228.1 31.4,230.7 33.7,228.8 37.6,227.8" fill="none" stroke="#c84040" stroke-width="1.1" stroke-opacity="1" stroke-linejoin="round"/>
<circle cx="30.3" cy="228.1" r="0.8" fill="#d04040" fill-opacity="1"/>
<circle cx="31.4" cy="230.7" r="0.8" fill="#d04040" fill-opacity="1"/>
<circle cx="33.7" cy="228.8" r="0.8" fill="#d04040" fill-opacity="1"/>
<circle cx="37.6" cy="227.8" r="0.8" fill="#d04040" fill-opacity="1"/>
<circle cx="45.3" cy="233.5" r="0.8" fill="#d04040" fill-opacity="1"/>
<polyline points="30.6,212 31.0,209.5 32.8,210.6 37.6,200.8 45.3,203.9 53,209.6 83,223.5 136.5,242.3 242,258.5" fill="none" stroke="#6e50c8" stroke-width="1.0" stroke-opacity="1" stroke-linejoin="round"/>
<rect x="29.700000000000003" y="211.1" width="1.8" height="1.8" fill="#6e50c8" fill-opacity="1"/>
<rect x="30.1" y="208.6" width="1.8" height="1.8" fill="#6e50c8" fill-opacity="1"/>
<rect x="31.9" y="209.7" width="1.8" height="1.8" fill="#6e50c8" fill-opacity="1"/>
<rect x="36.7" y="199.9" width="1.8" height="1.8" fill="#6e50c8" fill-opacity="1"/>
<rect x="44.4" y="203.0" width="1.8" height="1.8" fill="#6e50c8" fill-opacity="1"/>
<rect x="52.1" y="208.7" width="1.8" height="1.8" fill="#6e50c8" fill-opacity="1"/>
<rect x="82.1" y="222.6" width="1.8" height="1.8" fill="#6e50c8" fill-opacity="1"/>
<rect x="135.6" y="241.4" width="1.8" height="1.8" fill="#6e50c8" fill-opacity="1"/>
<rect x="241.1" y="257.6" width="1.8" height="1.8" fill="#6e50c8" fill-opacity="1"/>
<polyline points="30.8,210 31.4,201.6 32.9,189.3 37.6,175.4 45.3,189 53,189.6 83,220.4 136.5,238.5 242,258.5" fill="none" stroke="#6276d8" stroke-width="1.0" stroke-opacity="1" stroke-linejoin="round"/>
<rect x="29.900000000000002" y="209.1" width="1.8" height="1.8" fill="#6276d8" fill-opacity="1"/>
<rect x="30.5" y="200.7" width="1.8" height="1.8" fill="#6276d8" fill-opacity="1"/>
<rect x="32.0" y="188.4" width="1.8" height="1.8" fill="#6276d8" fill-opacity="1"/>
<rect x="36.7" y="174.5" width="1.8" height="1.8" fill="#6276d8" fill-opacity="1"/>
<rect x="44.4" y="188.1" width="1.8" height="1.8" fill="#6276d8" fill-opacity="1"/>
<rect x="52.1" y="188.7" width="1.8" height="1.8" fill="#6276d8" fill-opacity="1"/>
<rect x="82.1" y="219.5" width="1.8" height="1.8" fill="#6276d8" fill-opacity="1"/>
<rect x="135.6" y="237.6" width="1.8" height="1.8" fill="#6276d8" fill-opacity="1"/>
<rect x="241.1" y="257.6" width="1.8" height="1.8" fill="#6276d8" fill-opacity="1"/>
<rect x="29.9" y="202.4" width="2.2" height="2.2" fill="#5a6ad8" fill-opacity="1"/>
<rect x="30.2" y="205.4" width="2.2" height="2.2" fill="#5a6ad8" fill-opacity="1"/>
<rect x="29.9" y="208.4" width="2.2" height="2.2" fill="#5a6ad8" fill-opacity="1"/>
<rect x="31.1" y="203.4" width="2.2" height="2.2" fill="#5a6ad8" fill-opacity="1"/>
<circle cx="184.4" cy="170.5" r="0.85" fill="#d04848" fill-opacity="1"/>
<text x="191.2" y="173.016" font-size="5.6" text-anchor="start" font-weight="normal" fill="#000" textLength="32.87" lengthAdjust="spacingAndGlyphs" stroke="#000" stroke-width="0.25">20 U/kg ID #5</text>
<line x1="178" y1="177.1" x2="190" y2="177.1" stroke="#f0e4f4" stroke-width="0.7"/>
<rect x="183.55" y="176.25" width="1.7" height="1.7" fill="#9058c0" fill-opacity="1"/>
<text x="191.2" y="179.11599999999999" font-size="5.6" text-anchor="start" font-weight="normal" fill="#000" textLength="32.87" lengthAdjust="spacingAndGlyphs" stroke="#000" stroke-width="0.25">50 U/kg ID #8</text>
<line x1="178" y1="183.5" x2="190" y2="183.5" stroke="#e4f0d8" stroke-width="0.7"/>
<rect x="183.55" y="182.65" width="1.7" height="1.7" fill="#68a058" fill-opacity="1"/>
<text x="191.2" y="185.516" font-size="5.6" text-anchor="start" font-weight="normal" fill="#000" textLength="32.87" lengthAdjust="spacingAndGlyphs" stroke="#000" stroke-width="0.25">50 U/kg ID #9</text>
<line x1="178" y1="189.6" x2="190" y2="189.6" stroke="#7c8ce0" stroke-width="0.8"/>
<rect x="183.5" y="188.7" width="1.8" height="1.8" fill="#5a6ad0" fill-opacity="1"/>
<text x="191.2" y="191.61599999999999" font-size="5.6" text-anchor="start" font-weight="normal" fill="#000" textLength="35.86" lengthAdjust="spacingAndGlyphs" stroke="#000" stroke-width="0.25">75 U/kg ID #10</text>
<line x1="178" y1="195.3" x2="190" y2="195.3" stroke="#8a70d0" stroke-width="0.8"/>
<rect x="183.5" y="194.4" width="1.8" height="1.8" fill="#6048b0" fill-opacity="1"/>
<text x="191.2" y="197.316" font-size="5.6" text-anchor="start" font-weight="normal" fill="#000" textLength="35.86" lengthAdjust="spacingAndGlyphs" stroke="#000" stroke-width="0.25">75 U/kg ID #11</text>
<line x1="300.2" y1="168.9" x2="300.2" y2="267.7" stroke="#cdcdd2" stroke-width="1.0"/>
<line x1="283" y1="267.7" x2="512" y2="267.7" stroke="#cdcdd2" stroke-width="1.1"/>
<text x="298.0" y="172.725088" font-size="5.94" text-anchor="end" font-weight="bold" fill="#000" textLength="5.89" lengthAdjust="spacingAndGlyphs" stroke="#000" stroke-width="0.18">10</text>
<text x="298.0" y="192.525088" font-size="5.94" text-anchor="end" font-weight="bold" fill="#000" textLength="2.95" lengthAdjust="spacingAndGlyphs" stroke="#000" stroke-width="0.18">8</text>
<text x="298.0" y="212.225088" font-size="5.94" text-anchor="end" font-weight="bold" fill="#000" textLength="2.95" lengthAdjust="spacingAndGlyphs" stroke="#000" stroke-width="0.18">6</text>
<text x="298.0" y="231.92508800000002" font-size="5.94" text-anchor="end" font-weight="bold" fill="#000" textLength="2.95" lengthAdjust="spacingAndGlyphs" stroke="#000" stroke-width="0.18">4</text>
<text x="298.0" y="252.325088" font-size="5.94" text-anchor="end" font-weight="bold" fill="#000" textLength="2.95" lengthAdjust="spacingAndGlyphs" stroke="#000" stroke-width="0.18">2</text>
<text x="287.4" y="275.9" font-size="6.72" text-anchor="middle" font-weight="bold" fill="#000" textLength="8.67" lengthAdjust="spacingAndGlyphs" stroke="#000" stroke-width="0.18">-48</text>
<text x="301.2" y="275.9" font-size="6.72" text-anchor="middle" font-weight="bold" fill="#000" textLength="3.34" lengthAdjust="spacingAndGlyphs" stroke="#000" stroke-width="0.18">0</text>
<text x="312.8" y="275.9" font-size="6.72" text-anchor="middle" font-weight="bold" fill="#000" textLength="6.67" lengthAdjust="spacingAndGlyphs" stroke="#000" stroke-width="0.18">48</text>
<text x="329" y="275.9" font-size="6.72" text-anchor="middle" font-weight="bold" fill="#000" textLength="6.67" lengthAdjust="spacingAndGlyphs" stroke="#000" stroke-width="0.18">96</text>
<text x="341.9" y="275.9" font-size="6.72" text-anchor="middle" font-weight="bold" fill="#000" textLength="10.01" lengthAdjust="spacingAndGlyphs" stroke="#000" stroke-width="0.18">144</text>
<text x="358.5" y="275.9" font-size="6.72" text-anchor="middle" font-weight="bold" fill="#000" textLength="10.01" lengthAdjust="spacingAndGlyphs" stroke="#000" stroke-width="0.18">192</text>
<text x="374.7" y="275.9" font-size="6.72" text-anchor="middle" font-weight="bold" fill="#000" textLength="10.01" lengthAdjust="spacingAndGlyphs" stroke="#000" stroke-width="0.18">240</text>
<text x="391" y="275.9" font-size="6.72" text-anchor="middle" font-weight="bold" fill="#000" textLength="10.01" lengthAdjust="spacingAndGlyphs" stroke="#000" stroke-width="0.18">288</text>
<text x="404.8" y="275.9" font-size="6.72" text-anchor="middle" font-weight="bold" fill="#000" textLength="10.01" lengthAdjust="spacingAndGlyphs" stroke="#000" stroke-width="0.18">336</text>
<text x="423.7" y="275.9" font-size="6.72" text-anchor="middle" font-weight="bold" fill="#000" textLength="10.01" lengthAdjust="spacingAndGlyphs" stroke="#000" stroke-width="0.18">384</text>
<text x="439.3" y="275.9" font-size="6.72" text-anchor="middle" font-weight="bold" fill="#000" textLength="10.01" lengthAdjust="spacingAndGlyphs" stroke="#000" stroke-width="0.18">432</text>
<text x="453.3" y="275.9" font-size="6.72" text-anchor="middle" font-weight="bold" fill="#000" textLength="10.01" lengthAdjust="spacingAndGlyphs" stroke="#000" stroke-width="0.18">480</text>
<text x="468.1" y="275.9" font-size="6.72" text-anchor="middle" font-weight="bold" fill="#000" textLength="10.01" lengthAdjust="spacingAndGlyphs" stroke="#000" stroke-width="0.18">528</text>
<text x="483" y="275.9" font-size="6.72" text-anchor="middle" font-weight="bold" fill="#000" textLength="10.01" lengthAdjust="spacingAndGlyphs" stroke="#000" stroke-width="0.18">576</text>
<text x="497.8" y="275.9" font-size="6.72" text-anchor="middle" font-weight="bold" fill="#000" textLength="10.01" lengthAdjust="spacingAndGlyphs" stroke="#000" stroke-width="0.18">624</text>
<text x="512.6" y="275.9" font-size="6.72" text-anchor="middle" font-weight="bold" fill="#000" textLength="10.01" lengthAdjust="spacingAndGlyphs" stroke="#000" stroke-width="0.18">672</text>
<text x="409.6" y="289.8" font-size="8.9" text-anchor="middle" font-weight="bold" fill="#000" textLength="35" lengthAdjust="spacingAndGlyphs" stroke="#000" stroke-width="0.3">Time (h)</text>
<text transform="translate(275.6 209.4) rotate(-90)" x="0" y="0" font-size="6.4" text-anchor="middle" font-weight="bold" fill="#000" textLength="49.7" lengthAdjust="spacingAndGlyphs" stroke="#000" stroke-width="0.2">Free B Plasma</text>
<text transform="translate(285.7 211.5) rotate(-90)" x="0" y="0" font-size="6.5" text-anchor="middle" font-weight="bold" fill="#000" textLength="77.5" lengthAdjust="spacingAndGlyphs" stroke="#000" stroke-width="0.2">Concentration (μg/mL)</text>
<polyline points="300.4,203 300.4,262" fill="none" stroke="#a07c9c" stroke-width="0.9" stroke-opacity="1" stroke-linejoin="round"/>
<polyline points="301,262 307.4,245 315.8,231.6 352.8,220.8 406.2,219.2 511.5,214" fill="none" stroke="#ecd4f2" stroke-width="0.9" stroke-opacity="1" stroke-linejoin="round"/>
<rect x="306.59999999999997" y="244.2" width="1.6" height="1.6" fill="#c050d0" fill-opacity="1"/>
<rect x="315.0" y="230.79999999999998" width="1.6" height="1.6" fill="#c050d0" fill-opacity="1"/>
<rect x="352.0" y="220.0" width="1.6" height="1.6" fill="#c050d0" fill-opacity="1"/>
<rect x="405.4" y="218.39999999999998" width="1.6" height="1.6" fill="#c050d0" fill-opacity="1"/>
<rect x="510.7" y="213.2" width="1.6" height="1.6" fill="#c050d0" fill-opacity="1"/>
<polyline points="301,262 315,232 322.7,216.3 352.8,210.1 406.2,181.1 490.8,187.7" fill="none" stroke="#dcecc8" stroke-width="0.9" stroke-opacity="1" stroke-linejoin="round"/>
<rect x="314.2" y="231.2" width="1.6" height="1.6" fill="#5aa040" fill-opacity="1"/>
<rect x="321.9" y="215.5" width="1.6" height="1.6" fill="#5aa040" fill-opacity="1"/>
<rect x="352.0" y="209.29999999999998" width="1.6" height="1.6" fill="#5aa040" fill-opacity="1"/>
<rect x="405.4" y="180.29999999999998" width="1.6" height="1.6" fill="#5aa040" fill-opacity="1"/>
<polyline points="300.5,262 301.3,255 303.6,246.6 307.4,238.9 315.1,231.2 322.7,226 352.8,215.9 406.2,217.3 512.1,221.2" fill="none" stroke="#363636" stroke-width="1.05" stroke-opacity="1" stroke-linejoin="round"/>
<circle cx="352.8" cy="215.9" r="0.9" fill="#d83a3a" fill-opacity="1"/>
<circle cx="406.2" cy="217.3" r="0.9" fill="#d83a3a" fill-opacity="1"/>
<circle cx="512.1" cy="221.2" r="0.9" fill="#d83a3a" fill-opacity="1"/>
<polyline points="301.6,262 307.4,253.5 315.1,232.7 322.9,227.3 352.8,205.8 406.2,218.1 512,228.9" fill="none" stroke="#6e50c8" stroke-width="1.0" stroke-opacity="1" stroke-linejoin="round"/>
<rect x="300.70000000000005" y="261.1" width="1.8" height="1.8" fill="#6e50c8" fill-opacity="1"/>
<rect x="306.5" y="252.6" width="1.8" height="1.8" fill="#6e50c8" fill-opacity="1"/>
<rect x="314.20000000000005" y="231.79999999999998" width="1.8" height="1.8" fill="#6e50c8" fill-opacity="1"/>
<rect x="322.0" y="226.4" width="1.8" height="1.8" fill="#6e50c8" fill-opacity="1"/>
<rect x="351.90000000000003" y="204.9" width="1.8" height="1.8" fill="#6e50c8" fill-opacity="1"/>
<rect x="405.3" y="217.2" width="1.8" height="1.8" fill="#6e50c8" fill-opacity="1"/>
<rect x="511.1" y="228.0" width="1.8" height="1.8" fill="#6e50c8" fill-opacity="1"/>
<polyline points="300.8,262 304.5,252 309,240 314.7,224.6 322.7,207.4 352.8,191.2 406.2,181.1 511,217.2" fill="none" stroke="#6276d8" stroke-width="1.0" stroke-opacity="1" stroke-linejoin="round"/>
<rect x="313.8" y="223.7" width="1.8" height="1.8" fill="#6276d8" fill-opacity="1"/>
<rect x="321.8" y="206.5" width="1.8" height="1.8" fill="#6276d8" fill-opacity="1"/>
<rect x="351.90000000000003" y="190.29999999999998" width="1.8" height="1.8" fill="#6276d8" fill-opacity="1"/>
<rect x="405.3" y="180.2" width="1.8" height="1.8" fill="#6276d8" fill-opacity="1"/>
<rect x="510.1" y="216.29999999999998" width="1.8" height="1.8" fill="#6276d8" fill-opacity="1"/>
<rect x="299.9" y="257.7" width="2.2" height="2.2" fill="#a06040" fill-opacity="1"/>
<circle cx="301.3" cy="262.6" r="1.8" fill="#3038d0" fill-opacity="1"/>
<rect x="299.5" y="200.39999999999998" width="1.6" height="1.6" fill="#6e50c8" fill-opacity="1"/>
<rect x="299.5" y="216.0" width="1.6" height="1.6" fill="#6e50c8" fill-opacity="1"/>
<circle cx="471.7" cy="236.9" r="0.85" fill="#d04848" fill-opacity="1"/>
<text x="479.0" y="239.416" font-size="5.6" text-anchor="start" font-weight="normal" fill="#000" textLength="32.87" lengthAdjust="spacingAndGlyphs" stroke="#000" stroke-width="0.25">20 U/kg ID #5</text>
<line x1="466" y1="242.4" x2="477.6" y2="242.4" stroke="#f0e4f4" stroke-width="0.7"/>
<rect x="470.84999999999997" y="241.55" width="1.7" height="1.7" fill="#9058c0" fill-opacity="1"/>
<text x="479.0" y="244.416" font-size="5.6" text-anchor="start" font-weight="normal" fill="#000" textLength="32.87" lengthAdjust="spacingAndGlyphs" stroke="#000" stroke-width="0.25">50 U/kg ID #8</text>
<line x1="466" y1="248.3" x2="477.6" y2="248.3" stroke="#e4f0d8" stroke-width="0.7"/>
<rect x="470.84999999999997" y="247.45000000000002" width="1.7" height="1.7" fill="#68a058" fill-opacity="1"/>
<text x="479.0" y="250.316" font-size="5.6" text-anchor="start" font-weight="normal" fill="#000" textLength="32.87" lengthAdjust="spacingAndGlyphs" stroke="#000" stroke-width="0.25">50 U/kg ID #9</text>
<line x1="466" y1="254.6" x2="477.6" y2="254.6" stroke="#7c8ce0" stroke-width="0.8"/>
<rect x="470.8" y="253.7" width="1.8" height="1.8" fill="#5a6ad0" fill-opacity="1"/>
<text x="479.0" y="256.616" font-size="5.6" text-anchor="start" font-weight="normal" fill="#000" textLength="35.86" lengthAdjust="spacingAndGlyphs" stroke="#000" stroke-width="0.25">75 U/kg ID #10</text>
<line x1="466" y1="260.9" x2="477.6" y2="260.9" stroke="#8a70d0" stroke-width="0.8"/>
<rect x="470.8" y="260.0" width="1.8" height="1.8" fill="#6048b0" fill-opacity="1"/>
<text x="479.0" y="262.916" font-size="5.6" text-anchor="start" font-weight="normal" fill="#000" textLength="35.86" lengthAdjust="spacingAndGlyphs" stroke="#000" stroke-width="0.25">75 U/kg ID #11</text>
</svg>
</body></html>
